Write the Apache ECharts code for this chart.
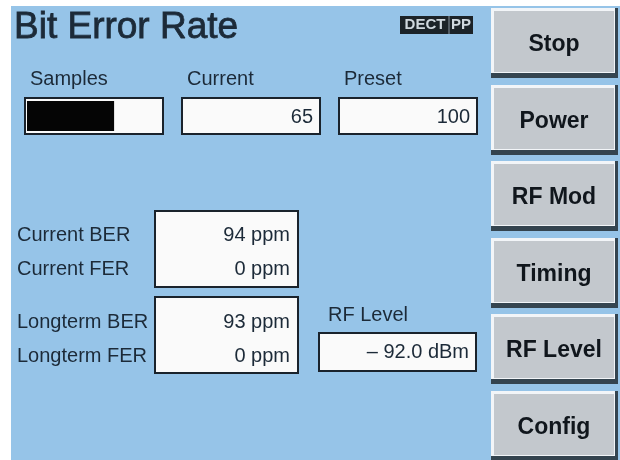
<!DOCTYPE html>
<html><head><meta charset="utf-8">
<script src="https://cdn.jsdelivr.net/npm/echarts@6/dist/echarts.min.js"></script>
<style>html,body{margin:0;padding:0;background:#fff}#c{width:620px;height:460px}</style>
</head><body><div id="c"></div>
<script>
// ---- data ----
const title = 'Bit Error Rate';
const modeTags = ['DECT', 'PP'];
const sampleLabels = ['Samples', 'Current', 'Preset'];
const samplesCurrent = 65;
const samplesPreset = 100;
const rateLabels = ['Current BER', 'Current FER', 'Longterm BER', 'Longterm FER'];
const rateValues = [94, 0, 93, 0];
const rateUnit = 'ppm';
const rfLevelLabel = 'RF Level';
const rfLevelValue = -92.0;
const rfLevelUnit = 'dBm';
const buttons = ['Stop', 'Power', 'RF Mod', 'Timing', 'RF Level', 'Config'];

// ---- styles ----
const BG = '#96c4e8';
const INK = '#1c2a38';
const FONT = '"Liberation Sans", Arial, sans-serif';

const chart = echarts.init(document.getElementById('c'), null, {renderer: 'canvas'});
const g = [];

// panel
g.push({type: 'rect', shape: {x: 11, y: 6, width: 609, height: 454}, style: {fill: BG}, z: 0});

// title
g.push({type: 'text', x: 14, y: 28, style: {text: title, font: '37px ' + FONT, fill: INK, stroke: INK, lineWidth: 0.8, textVerticalAlign: 'middle'}, z: 5});

// mode badge
g.push({type: 'rect', shape: {x: 400, y: 16, width: 73, height: 18}, style: {fill: '#1c2328'}, z: 5});
g.push({type: 'line', shape: {x1: 449, y1: 16, x2: 449, y2: 34}, style: {stroke: '#8a96a0', lineWidth: 1}, z: 6});
g.push({type: 'text', x: 425, y: 25, style: {text: modeTags[0], font: 'bold 15px ' + FONT, fill: '#d0d8de', textAlign: 'center', textVerticalAlign: 'middle'}, z: 6});
g.push({type: 'text', x: 461, y: 25, style: {text: modeTags[1], font: 'bold 15px ' + FONT, fill: '#d0d8de', textAlign: 'center', textVerticalAlign: 'middle'}, z: 6});

function box(x, y, w, h) {
  g.push({type: 'rect', shape: {x: x, y: y, width: w, height: h}, style: {fill: '#fafafa', stroke: '#1a232c', lineWidth: 2}, z: 3});
}
function txt(t, x, y, align) {
  g.push({type: 'text', x: x, y: y, style: {text: t, font: '20px ' + FONT, fill: INK, textAlign: align || 'left', textVerticalAlign: 'middle'}, z: 6});
}

// samples row
const sx = [25, 182, 339];
sampleLabels.forEach((l, i) => txt(l, sx[i] + 5, 79));
sx.forEach(x => box(x, 98, 138, 36));
txt(String(samplesCurrent), 313, 117, 'right');
txt(String(samplesPreset), 470, 117, 'right');

// rate boxes
box(155, 211, 143, 76);
box(155, 297, 143, 76);
const ry = [235, 269, 322, 356];
rateLabels.forEach((l, i) => {
  txt(l, 17, ry[i]);
  txt(rateValues[i] + ' ' + rateUnit, 290, ry[i], 'right');
});

// RF level
txt(rfLevelLabel, 328, 315);
box(319, 333, 157, 38);
txt('\u2013 ' + Math.abs(rfLevelValue).toFixed(1) + ' ' + rfLevelUnit, 469, 352, 'right');

// soft keys
buttons.forEach((b, i) => {
  const y0 = Math.round(8 + i * 76.6);
  g.push({type: 'rect', shape: {x: 491, y: y0, width: 127, height: 70}, style: {fill: '#34444f'}, z: 3});
  g.push({type: 'rect', shape: {x: 491, y: y0, width: 124, height: 65}, style: {fill: '#f2f5f8'}, z: 4});
  g.push({type: 'rect', shape: {x: 494, y: y0 + 3, width: 120, height: 61}, style: {fill: '#c3c8cd'}, z: 4});
  g.push({type: 'text', x: 554, y: y0 + 37, style: {text: b, font: 'bold 23px ' + FONT, fill: '#10161c', textAlign: 'center', textVerticalAlign: 'middle'}, z: 6});
});

chart.setOption({
  animation: false,
  backgroundColor: '#ffffff',
  grid: {left: 27, top: 100, width: 134, height: 32},
  xAxis: {type: 'value', min: 0, max: samplesPreset, show: false},
  yAxis: {type: 'category', data: ['samples'], show: false},
  series: [{
    type: 'bar', data: [samplesCurrent], barWidth: 30, z: 10,
    itemStyle: {color: '#050505'}, silent: true
  }],
  graphic: {elements: g}
});
</script></body></html>
